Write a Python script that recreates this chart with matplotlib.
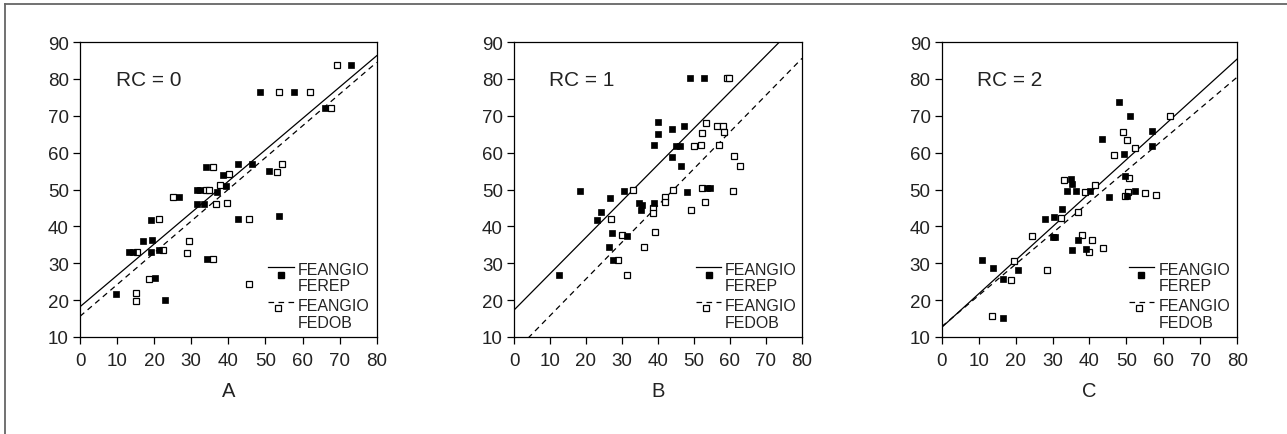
import matplotlib.pyplot as plt
import numpy as np

plt.rcParams["font.family"] = ["Liberation Sans", "DejaVu Sans"]

# ---- data ----
# panel A, RC = 0
a_ferep_x = [9.6, 23.0, 20.2, 34.2, 13.3, 14.3, 19.1, 21.4, 17.1, 19.3, 19.1, 42.5, 53.7, 26.8,
             31.5, 33.3, 31.5, 32.4, 36.9, 39.4, 38.5, 34.0, 42.5, 46.4, 51.0, 48.5, 57.7, 66.0, 73.2]
a_ferep_y = [21.7, 20.0, 25.9, 31.1, 33.0, 33.0, 33.0, 33.7, 35.9, 36.2, 41.7, 42.0, 42.8, 47.9,
             46.0, 46.0, 50.0, 50.0, 49.4, 51.0, 54.0, 56.0, 57.0, 56.9, 55.0, 76.5, 76.5, 72.2, 83.7]
a_fedob_x = [15.2, 15.2, 18.5, 45.7, 35.9, 28.9, 29.3, 15.5, 22.5, 21.3, 45.7, 25.2, 36.6,
             39.6, 33.9, 34.7, 37.7, 40.1, 35.8, 54.5, 53.2, 53.6, 62.0, 67.6, 69.3]
a_fedob_y = [21.9, 19.75, 25.7, 24.4, 31.1, 32.7, 35.9, 33.0, 33.7, 42.0, 42.0, 47.9, 46.1,
             46.25, 49.9, 49.9, 51.2, 54.1, 56.2, 56.9, 54.8, 76.5, 76.5, 72.2, 83.7]

# panel B, RC = 1
b_ferep_x = [49.0, 52.8, 39.9, 40.0, 44.0, 47.1, 38.8, 44.9, 46.1, 43.9, 46.4, 18.3, 30.5, 26.6,
             48.0, 53.7, 54.4, 34.7, 35.5, 35.4, 38.8, 24.1, 23.0, 27.1, 31.3, 26.5, 27.4, 12.6]
b_ferep_y = [80.2, 80.2, 68.2, 65.1, 66.4, 67.3, 62.1, 61.85, 61.85, 58.7, 56.4, 49.7, 49.7, 47.7,
             49.4, 50.5, 50.5, 46.3, 45.9, 44.4, 46.3, 44.0, 41.8, 38.3, 37.4, 34.5, 30.8, 26.7]
b_fedob_x = [59.1, 59.6, 53.2, 52.3, 56.3, 58.0, 58.2, 57.0, 50.0, 51.9, 61.2, 62.7, 33.1, 44.2,
             52.2, 60.8, 41.9, 41.9, 38.5, 38.5, 53.1, 49.3, 27.0, 39.1, 30.1, 36.2, 29.0, 31.3]
b_fedob_y = [80.2, 80.2, 67.9, 65.2, 67.1, 67.3, 65.7, 62.1, 61.85, 62.1, 58.96, 56.4, 49.9, 49.8,
             50.5, 49.5, 48.1, 46.5, 44.9, 43.6, 46.5, 44.5, 42.0, 38.4, 37.7, 34.5, 30.9, 26.7]

# panel C, RC = 2
c_ferep_x = [48.1, 51.0, 56.9, 56.8, 43.5, 49.4, 49.6, 35.0, 35.4, 33.9, 36.3, 40.2, 45.4, 50.3,
             52.4, 32.6, 27.9, 30.4, 30.1, 30.7, 36.9, 35.2, 39.0, 11.0, 14.0, 16.5, 20.6, 16.5]
c_ferep_y = [73.6, 69.8, 65.9, 61.9, 63.7, 59.6, 53.6, 52.8, 51.5, 49.5, 49.5, 49.6, 48.0, 48.3,
             49.6, 44.6, 42.1, 42.6, 37.0, 37.0, 36.2, 33.5, 34.0, 30.8, 28.6, 25.6, 28.2, 15.05]
c_fedob_x = [61.7, 49.1, 50.1, 52.2, 46.7, 50.7, 33.0, 41.6, 38.7, 50.4, 49.6, 55.1, 58.1, 36.9,
             32.4, 24.4, 38.1, 40.6, 39.8, 43.7, 19.7, 28.5, 18.7, 13.7]
c_fedob_y = [70.0, 65.5, 63.4, 61.3, 59.3, 53.2, 52.5, 51.2, 49.4, 49.4, 48.2, 49.0, 48.6, 44.0,
             42.4, 37.3, 37.7, 36.2, 33.1, 34.2, 30.6, 28.1, 25.5, 15.7]

# fitted lines (intercept, slope): solid = FEREP, dashed = FEDOB
fit_ferep = [(18.2, 0.851), (17.3, 0.986), (12.6, 0.91)]
fit_fedob = [(15.6, 0.861), (5.8, 0.997), (12.8, 0.846)]

rc_labels = ["RC = 0", "RC = 1", "RC = 2"]
panel_labels = ["A", "B", "C"]

panels = [(a_ferep_x, a_ferep_y, a_fedob_x, a_fedob_y),
          (b_ferep_x, b_ferep_y, b_fedob_x, b_fedob_y),
          (c_ferep_x, c_ferep_y, c_fedob_x, c_fedob_y)]

# axes positions in pixels (left, width)
W, H = 1287, 435
boxes = [(80, 296.7), (514, 288), (941.7, 295.5)]
top_px, bot_px = 43, 338

fig = plt.figure(figsize=(W / 100, H / 100), dpi=100)

# grey frame, top and left only
fig.add_artist(plt.Line2D([5 / W, 1], [1 - 5 / H, 1 - 5 / H], color="#666666", lw=1.3))
fig.add_artist(plt.Line2D([5 / W, 5 / W], [0, 1 - 5 / H], color="#666666", lw=1.3))

txt = "#222222"
leg_fs = 11.5
for i, (fx, fy, ox, oy) in enumerate(panels):
    left, width = boxes[i]
    ax = fig.add_axes([left / W, 1 - bot_px / H, width / W, (bot_px - top_px) / H])
    xs = np.array([0, 80])
    b0, b1 = fit_ferep[i]
    ax.plot(xs, b0 + b1 * xs, color="black", lw=0.9)
    b0, b1 = fit_fedob[i]
    ax.plot(xs, b0 + b1 * xs, color="black", lw=0.9, dashes=(4.5, 3.5))
    ax.plot(ox, oy, "s", ms=4.6, mfc="white", mec="black", mew=0.9, ls="none")
    ax.plot(fx, fy, "s", ms=4.8, mfc="black", mec="black", mew=0.5, ls="none")

    ax.set_xlim(0, 80)
    ax.set_ylim(10, 90)
    ax.set_xticks(range(0, 81, 10))
    ax.set_yticks(range(10, 91, 10))
    ax.tick_params(direction="out", length=5, width=0.9, labelsize=13.5, colors="black",
                   labelcolor=txt)
    ax.tick_params(axis="x", pad=6)
    ax.tick_params(axis="y", pad=3)
    for s in ax.spines.values():
        s.set_linewidth(0.9)

    ax.text(0.12, 0.872, rc_labels[i], transform=ax.transAxes, fontsize=15,
            color=txt, va="center", ha="left")
    ax.text(0.5, -0.183, panel_labels[i], transform=ax.transAxes, fontsize=14.5,
            color=txt, va="center", ha="center")

    # legend drawn in the old stacked style
    tr = ax.transAxes
    ax.plot([0.633, 0.72], [0.236, 0.236], color="black", lw=0.9, transform=tr, clip_on=False)
    ax.plot([0.676], [0.209], "s", ms=4.8, mfc="black", mec="black", transform=tr)
    ax.text(0.733, 0.228, "FEANGIO", transform=tr, fontsize=leg_fs, color=txt, va="center")
    ax.text(0.733, 0.174, "FEREP", transform=tr, fontsize=leg_fs, color=txt, va="center")
    ax.plot([0.633, 0.72], [0.12, 0.12], color="black", lw=0.9, dashes=(4.5, 3.5),
            transform=tr, clip_on=False)
    ax.plot([0.668], [0.097], "s", ms=4.6, mfc="white", mec="black", mew=0.9, transform=tr)
    ax.text(0.733, 0.106, "FEANGIO", transform=tr, fontsize=leg_fs, color=txt, va="center")
    ax.text(0.733, 0.05, "FEDOB", transform=tr, fontsize=leg_fs, color=txt, va="center")

fig.savefig("out.png", dpi=100)
